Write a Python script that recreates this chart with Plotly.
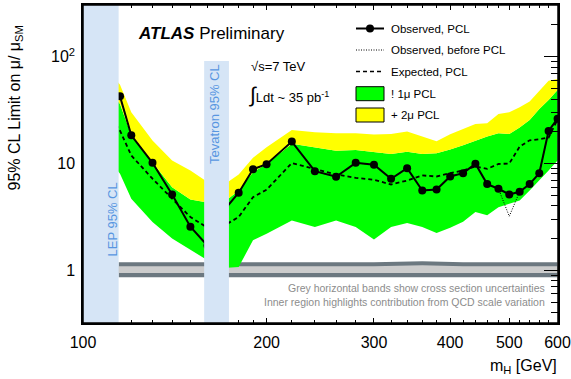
import math
import plotly.graph_objects as go

# ---------------- data ----------------
mass = [110, 115, 120, 130, 140, 150, 160, 170, 180, 190,
        200, 220, 240, 260, 280, 300, 320, 340, 360, 380,
        400, 420, 440, 460, 480, 500, 520, 540, 560, 580, 600]

observed = [60, 42.6, 18.4, 10.15, 5.13, 2.56, 1.7, 3.6, 5.32, 8.84,
            9.85, 16.05, 8.47, 7.51, 10.15, 9.72, 7.19, 9.04, 5.59, 5.71,
            7.56, 8.12, 9.93, 6.41, 5.80, 5.13, 5.44, 6.41, 8.12, 20.2, 26.3]

observed_before_pcl = [60, 42.6, 18.4, 10.15, 5.13, 2.56, 1.7, 3.6, 5.32, 8.84,
                       9.85, 16.05, 8.47, 7.51, 10.15, 9.72, 7.19, 9.04, 5.59, 5.71,
                       7.56, 8.12, 9.93, 6.41, 5.80, 3.2, 5.44, 6.41, 8.12, 20.2, 26.3]

expected = [30, 20.3, 11.9, 7.2, 4.68, 3.15, 2.5, 2.6, 3.15, 4.84,
            5.68, 10.1, 8.9, 7.9, 7.35, 7.04, 6.36, 6.93, 7.73, 7.56,
            8.12, 8.6, 9.4, 8.9, 9.9, 10.0, 14.4, 16.5, 16.9, 17.5, 25.8]

minus1 = [11, 8.0, 4.68, 2.83, 1.98, 1.54, 1.24, 1.05, 1.07, 1.91,
          2.2, 2.93, 2.54, 2.93, 2.54, 1.94, 2.54, 2.77, 2.54, 2.23,
          2.5, 2.85, 3.51, 3.27, 3.9, 4.2, 4.5, 5.6, 6.9, 8.6, 10.7]

plus1 = [50, 36.1, 18.3, 10.3, 6.0, 4.6, 4.3, 4.3, 5.6, 8.3,
         9.9, 15.3, 14.2, 13.2, 13.4, 12.9, 12.3, 12.9, 12.3, 12.5,
         13.5, 14.8, 16.4, 17.9, 19.2, 18.9, 21.8, 25.6, 32.5, 39.4, 48.8]

plus2 = [75, 54.7, 30.2, 16.4, 10.7, 8.6, 6.7, 6.3, 7.9, 11.3,
         14.2, 20.6, 19.6, 19.2, 19.2, 18.7, 18.9, 20.0, 17.9, 16.2,
         18.8, 21.1, 23.5, 23.8, 29.1, 30.2, 33.6, 38.2, 48.1, 59.7, 61.9]

# cross-section uncertainty bands around mu = 1
xs_mass = [114.4, 300, 360, 420, 600]
xs_outer_hi = [1.19, 1.19, 1.21, 1.19, 1.19]
xs_inner_hi = [1.09, 1.09, 1.11, 1.09, 1.09]
xs_inner_lo = [0.94, 0.94, 0.95, 0.94, 0.94]
xs_outer_lo = [0.86, 0.86, 0.87, 0.86, 0.86]

lep_limit = [100, 114.4]
tevatron_limit = [158, 173.5]

x_tickvals = [100, 200, 300, 400, 500, 600]
x_ticktext = ["100", "200", "300", "400", "500", "600"]
x_minor = [110, 120, 130, 140, 150, 160, 170, 180, 190,
           220, 240, 260, 280, 320, 340, 360, 380, 420, 440, 460, 480,
           520, 540, 560, 580]
y_tickvals = [1, 10, 100]
y_ticktext = ["1", "10", "10<sup>2</sup>"]
y_minor = [0.4, 0.5, 0.6, 0.7, 0.8, 0.9, 2, 3, 4, 5, 6, 7, 8, 9,
           20, 30, 40, 50, 60, 70, 80, 90, 200, 300]

# ---------------- styling ----------------
W, H = 571, 379
L, R, T, B = 83, 13, 5, 56
PW, PH = W - L - R, H - T - B
FONT = "Liberation Sans, Arial, Helvetica, sans-serif"
GREEN = "#00ff00"
YELLOW = "#ffff00"
BLUE_BAND = "rgb(214,229,246)"
BLUE_TEXT = "rgb(88,150,225)"
GREY_DARK = "rgb(108,120,128)"
GREY_LIGHT = "rgb(204,204,204)"


def px(xp):
    return (xp - L) / PW


def py(yp):
    return (H - B - yp) / PH


fig = go.Figure()

# grey cross-section bands
fig.add_trace(go.Scatter(x=xs_mass, y=xs_outer_lo, mode="lines", line=dict(width=0),
                         showlegend=False, hoverinfo="skip"))
fig.add_trace(go.Scatter(x=xs_mass, y=xs_outer_hi, mode="lines", line=dict(width=0),
                         fill="tonexty", fillcolor=GREY_DARK, showlegend=False, hoverinfo="skip"))
fig.add_trace(go.Scatter(x=xs_mass, y=xs_inner_lo, mode="lines", line=dict(width=0),
                         showlegend=False, hoverinfo="skip"))
fig.add_trace(go.Scatter(x=xs_mass, y=xs_inner_hi, mode="lines", line=dict(width=0),
                         fill="tonexty", fillcolor=GREY_LIGHT, showlegend=False, hoverinfo="skip"))

# expected bands (-1 sigma .. +1 sigma green, +1 .. +2 yellow)
fig.add_trace(go.Scatter(x=mass, y=minus1, mode="lines", line=dict(width=0),
                         showlegend=False, hoverinfo="skip"))
fig.add_trace(go.Scatter(x=mass, y=plus1, mode="lines", line=dict(width=0),
                         fill="tonexty", fillcolor=GREEN, showlegend=False))
fig.add_trace(go.Scatter(x=mass, y=plus2, mode="lines", line=dict(width=0),
                         fill="tonexty", fillcolor=YELLOW, showlegend=False))

# expected, dashed
fig.add_trace(go.Scatter(x=mass, y=expected, mode="lines",
                         line=dict(color="black", width=1.8, dash="4px,3px"), showlegend=False))
# observed before PCL, dotted
fig.add_trace(go.Scatter(x=mass, y=observed_before_pcl, mode="lines",
                         line=dict(color="black", width=1, dash="1px,1.5px"), showlegend=False))
# observed PCL
fig.add_trace(go.Scatter(x=mass, y=observed, mode="lines+markers",
                         line=dict(color="black", width=2),
                         marker=dict(color="black", size=8), showlegend=False))

shapes = []
# excluded regions
shapes.append(dict(type="rect", xref="x", yref="paper", x0=lep_limit[0], x1=lep_limit[1],
                   y0=0, y1=1, fillcolor=BLUE_BAND, line=dict(width=0), layer="above"))
shapes.append(dict(type="rect", xref="x", yref="paper", x0=tevatron_limit[0], x1=tevatron_limit[1],
                   y0=0, y1=py(61), fillcolor=BLUE_BAND, line=dict(width=0), layer="above"))
# frame
shapes.append(dict(type="rect", xref="paper", yref="paper", x0=0, x1=1, y0=0, y1=1,
                   line=dict(color="black", width=1.5), fillcolor="rgba(0,0,0,0)", layer="above"))

# manual legend
lx0, lx1 = px(356), px(384)
shapes.append(dict(type="line", xref="paper", yref="paper", x0=lx0, x1=lx1, y0=py(28.5), y1=py(28.5),
                   line=dict(color="black", width=2)))
shapes.append(dict(type="circle", xref="paper", yref="paper", x0=px(366), x1=px(374),
                   y0=py(32.5), y1=py(24.5), fillcolor="black", line=dict(width=0)))
shapes.append(dict(type="line", xref="paper", yref="paper", x0=lx0, x1=lx1, y0=py(50), y1=py(50),
                   line=dict(color="black", width=1, dash="1px,1.5px")))
shapes.append(dict(type="line", xref="paper", yref="paper", x0=lx0, x1=lx1, y0=py(71.5), y1=py(71.5),
                   line=dict(color="black", width=1.6, dash="4px,3px")))
shapes.append(dict(type="rect", xref="paper", yref="paper", x0=lx0, x1=lx1, y0=py(100.7), y1=py(86.7),
                   fillcolor=GREEN, line=dict(color="black", width=1)))
shapes.append(dict(type="rect", xref="paper", yref="paper", x0=lx0, x1=lx1, y0=py(122), y1=py(108),
                   fillcolor=YELLOW, line=dict(color="black", width=1)))

annotations = []


def ann(text, x, y, size, xanchor="left", yanchor="middle", color="black", angle=0):
    annotations.append(dict(text=text, xref="paper", yref="paper", x=x, y=y,
                            xanchor=xanchor, yanchor=yanchor, showarrow=False,
                            textangle=angle, font=dict(family=FONT, size=size, color=color)))


legend_labels = ["Observed, PCL", "Observed, before PCL", "Expected, PCL", "! 1μ PCL", "+ 2μ PCL"]
legend_y = [28.5, 50, 71.5, 94, 115]
for lab, yy in zip(legend_labels, legend_y):
    ann(lab, px(389), py(yy), 11.5)

ann("<b><i>ATLAS</i></b> Preliminary", px(136), py(34), 17)
ann("√s=7 TeV", px(249), py(67), 13)
ann("<span style='font-size:21px'>∫</span>Ldt ~ 35 pb<sup>-1</sup>", px(247), py(95), 13)
ann("LEP 95% CL", px(112), py(219.5), 13, xanchor="center", color=BLUE_TEXT, angle=-90)
ann("Tevatron 95% CL", px(214), py(114), 13, xanchor="center", color=BLUE_TEXT, angle=-90)
ann("Grey horizontal bands show cross section uncertainties", px(547), py(287.5), 10.5,
    xanchor="right", color="rgb(140,140,140)")
ann("Inner region highlights contribution from QCD scale variation", px(547), py(302), 10.5,
    xanchor="right", color="rgb(140,140,140)")
ann("95% CL Limit on μ/ μ<sub>SM</sub>", px(15), py(193), 16, xanchor="center",
    yanchor="bottom", angle=-90)
ann("m<sub>H</sub> [GeV]", px(559), py(366), 16, xanchor="right")

fig.update_layout(
    width=W, height=H,
    margin=dict(l=L, r=R, t=T, b=B, pad=0, autoexpand=False),
    paper_bgcolor="white", plot_bgcolor="white",
    font=dict(family=FONT, size=16, color="black"),
    showlegend=False,
    shapes=shapes,
    annotations=annotations,
    xaxis=dict(type="log", range=[2, math.log10(601)], tickvals=x_tickvals, ticktext=x_ticktext,
               ticks="inside", ticklen=5, tickwidth=1, tickcolor="black",
               showline=True, linecolor="black", linewidth=1.5, mirror="ticks",
               showgrid=False, zeroline=False, ticklabelstandoff=4, ticklabeloverflow="allow",
               automargin=False,
               tickfont=dict(family=FONT, size=16, color="black"),
               minor=dict(tickvals=x_minor, ticks="inside", ticklen=3, tickcolor="black",
                          tickwidth=1, showgrid=False)),
    yaxis=dict(type="log", range=[math.log10(0.32), math.log10(306)], tickvals=y_tickvals,
               ticktext=y_ticktext,
               ticks="inside", ticklen=14, tickwidth=1, tickcolor="black",
               showline=True, linecolor="black", linewidth=1.5, mirror="ticks",
               showgrid=False, zeroline=False, ticklabelstandoff=3, ticklabeloverflow="allow",
               automargin=False,
               tickfont=dict(family=FONT, size=16, color="black"),
               minor=dict(tickvals=y_minor, ticks="inside", ticklen=7, tickcolor="black",
                          tickwidth=1, showgrid=False)),
)

fig.write_html("out.html")
